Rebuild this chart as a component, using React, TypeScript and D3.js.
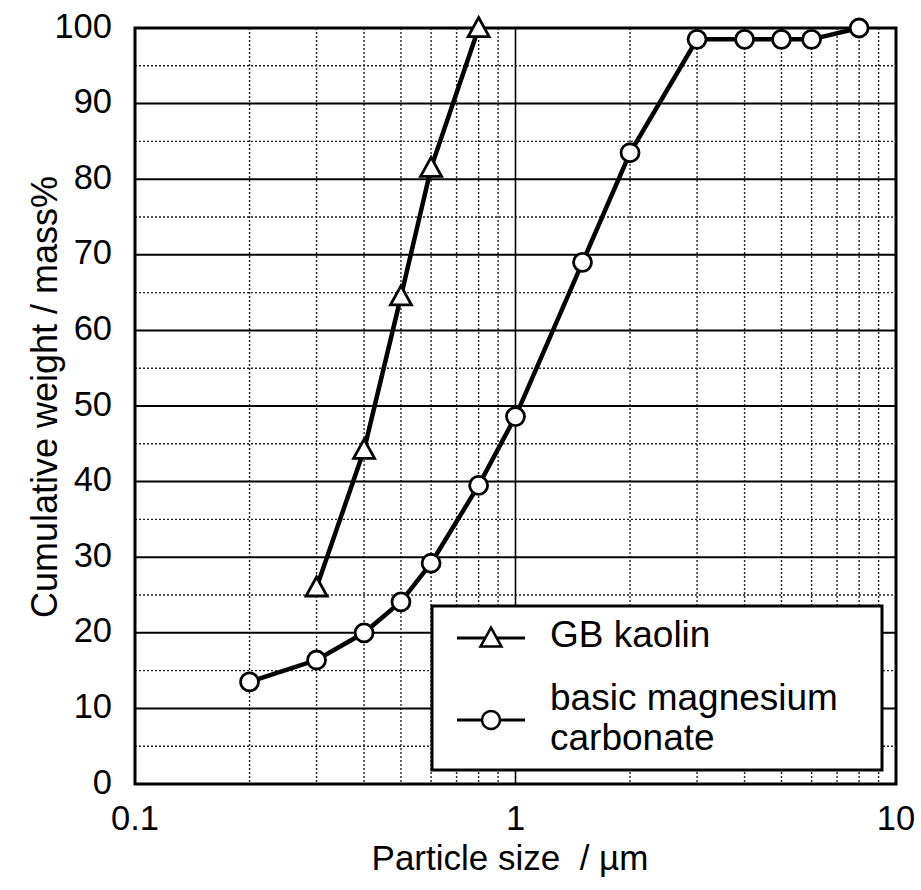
import React from "react";
import * as d3 from "d3";

const kaolinSize = [0.3, 0.4, 0.5, 0.6, 0.8];
const kaolinCum = [26, 44.2, 64.5, 81.5, 100];
const mgSize = [0.2, 0.3, 0.4, 0.5, 0.6, 0.8, 1, 1.5, 2, 3, 4, 5, 6, 8];
const mgCum = [13.5, 16.4, 20, 24.1, 29.2, 39.5, 48.6, 69, 83.5, 98.5, 98.5, 98.5, 98.5, 100];
const xTicks = [0.1, 1, 10];
const xTickLabels = ["0.1", "1", "10"];
const yTicks = [0, 10, 20, 30, 40, 50, 60, 70, 80, 90, 100];
const legendLabels = ["GB kaolin", "basic magnesium", "carbonate"];

const W = 921, H = 890;
const L = 135, R = 896, T = 28, B = 784;
const FONT = "'Liberation Sans', Arial, Helvetica, sans-serif";

export default function App() {
  const x = d3.scaleLog().domain([0.1, 10]).range([L, R]);
  const y = d3.scaleLinear().domain([0, 100]).range([B, T]);
  const minorX: number[] = [];
  for (const dec of [0.1, 1]) for (let k = 2; k <= 9; k++) minorX.push(+(dec * k).toFixed(2));
  const minorY = d3.range(5, 100, 10);
  const line = d3.line<[number, number]>().x(d => x(d[0])).y(d => y(d[1]));
  const kData: [number, number][] = kaolinSize.map((s, i) => [s, kaolinCum[i]]);
  const mData: [number, number][] = mgSize.map((s, i) => [s, mgCum[i]]);
  const tri = (cx: number, cy: number) => {
    const w = 10.5, h = 19;
    return `M${cx},${cy - h * 0.55} L${cx + w},${cy + h * 0.45} L${cx - w},${cy + h * 0.45} Z`;
  };
  const lg = { x0: 432, y0: 606, x1: 882, y1: 770 };
  return (
    <svg width={W} height={H} style={{ position: "absolute", left: 0, top: 0, background: "#fff" }} fontFamily={FONT}>
      <rect x={0} y={0} width={W} height={H} fill="#fff" />
      {/* grid */}
      {minorY.map(v => (
        <line key={"my" + v} x1={L} x2={R} y1={y(v)} y2={y(v)} stroke="#222" strokeWidth={1.4} strokeDasharray="2,2" />
      ))}
      {minorX.map(v => (
        <line key={"mx" + v} x1={x(v)} x2={x(v)} y1={T} y2={B} stroke="#222" strokeWidth={1.4} strokeDasharray="2,2" />
      ))}
      {yTicks.slice(1, -1).map(v => (
        <line key={"gy" + v} x1={L} x2={R} y1={y(v)} y2={y(v)} stroke="#000" strokeWidth={2} />
      ))}
      <line x1={x(1)} x2={x(1)} y1={T} y2={B} stroke="#000" strokeWidth={1.6} />
      {/* frame */}
      <rect x={L} y={T} width={R - L} height={B - T} fill="none" stroke="#000" strokeWidth={3} />
      {/* tick labels */}
      {yTicks.map(v => (
        <text key={"yt" + v} x={112} y={y(v) + 9.5} textAnchor="end" fontSize={34.5}>{v}</text>
      ))}
      {xTicks.map((v, i) => (
        <text key={"xt" + v} x={x(v)} y={830} textAnchor="middle" fontSize={34.5}>{xTickLabels[i]}</text>
      ))}
      <text x={510} y={870} textAnchor="middle" fontSize={35}>{"Particle size\u00A0\u00A0/ µm"}</text>
      <text transform={`translate(57,397) rotate(-90)`} textAnchor="middle" fontSize={36}>Cumulative weight / mass%</text>
      {/* series */}
      <path d={line(kData) || ""} fill="none" stroke="#000" strokeWidth={4.5} />
      <path d={line(mData) || ""} fill="none" stroke="#000" strokeWidth={4.5} />
      {kData.map((d, i) => (
        <path key={"k" + i} d={tri(x(d[0]), y(d[1]))} fill="#fff" stroke="#000" strokeWidth={2.8} />
      ))}
      {mData.map((d, i) => (
        <circle key={"m" + i} cx={x(d[0])} cy={y(d[1])} r={9} fill="#fff" stroke="#000" strokeWidth={2.8} />
      ))}
      {/* legend */}
      <rect x={lg.x0} y={lg.y0} width={lg.x1 - lg.x0} height={lg.y1 - lg.y0} fill="#fff" stroke="#000" strokeWidth={3} />
      <line x1={457} x2={525} y1={638} y2={638} stroke="#000" strokeWidth={3} />
      <path d={tri(491, 638)} fill="#fff" stroke="#000" strokeWidth={2.5} />
      <text x={550} y={647} fontSize={37}>{legendLabels[0]}</text>
      <line x1={457} x2={525} y1={720} y2={720} stroke="#000" strokeWidth={3} />
      <circle cx={491} cy={720} r={9} fill="#fff" stroke="#000" strokeWidth={2.5} />
      <text x={550} y={710} fontSize={37}>{legendLabels[1]}</text>
      <text x={550} y={750} fontSize={37}>{legendLabels[2]}</text>
    </svg>
  );
}
